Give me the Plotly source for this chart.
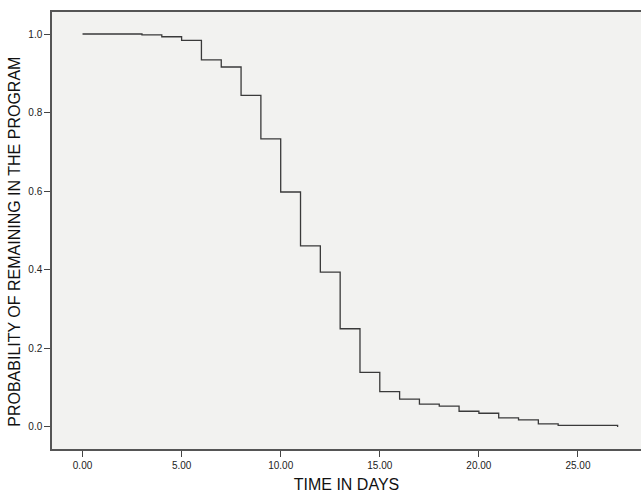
import plotly.graph_objects as go

# Kaplan-Meier style survival steps
time_days = [0, 3, 4, 5, 6, 7, 8, 9, 10, 11, 12, 13, 14, 15, 16, 17, 18, 19, 20, 21, 22, 23, 24, 27]
prob_remaining = [1.000, 0.998, 0.993, 0.984, 0.934, 0.916, 0.844, 0.733, 0.598, 0.461,
                  0.394, 0.250, 0.139, 0.090, 0.071, 0.058, 0.053, 0.040, 0.035, 0.023,
                  0.018, 0.008, 0.004, 0.000]

x_tick_vals = [0, 5, 10, 15, 20, 25]
x_tick_text = ["0.00", "5.00", "10.00", "15.00", "20.00", "25.00"]
y_tick_vals = [0.0, 0.2, 0.4, 0.6, 0.8, 1.0]
y_tick_text = ["0.0", "0.2", "0.4", "0.6", "0.8", "1.0"]
y_title = "PROBABILITY OF REMAINING IN THE PROGRAM"
x_title = "TIME IN DAYS"

fig = go.Figure()
fig.add_trace(go.Scatter(
    x=time_days, y=prob_remaining, mode="lines", line_shape="hv",
    line=dict(color="#3a3a3a", width=1.3), showlegend=False, hoverinfo="x+y"))

font_family = "Liberation Sans, Arial, Helvetica, sans-serif"
fig.update_layout(
    width=641, height=494,
    margin=dict(l=52, r=0, t=12, b=45),
    paper_bgcolor="white", plot_bgcolor="#f2f2f0",
    font=dict(family=font_family, color="#222222"),
    xaxis=dict(
        range=[-1.54, 28.18], tickvals=x_tick_vals, ticktext=x_tick_text,
        ticks="outside", ticklen=6, tickwidth=1.3, tickcolor="#444444",
        tickfont=dict(size=10, color="#222222"), automargin=False,
        showgrid=False, zeroline=False, showline=True, linecolor="#555555",
        linewidth=1.5, mirror=True,
        title=dict(text=x_title, font=dict(size=16, color="#111111"), standoff=9),
    ),
    yaxis=dict(
        range=[-0.056, 1.056], tickvals=y_tick_vals, ticktext=y_tick_text,
        ticks="outside", ticklen=6, tickwidth=1.3, tickcolor="#444444",
        tickfont=dict(size=10, color="#222222"), automargin=False,
        showgrid=False, zeroline=False, showline=True, linecolor="#555555",
        linewidth=1.5,
    ),
    annotations=[dict(
        text=y_title, textangle=-90, xref="paper", yref="paper",
        x=-0.063, y=0.474, xanchor="center", yanchor="middle", showarrow=False,
        font=dict(size=16, color="#111111", family=font_family))],
)

fig.write_html("out.html", config={"displayModeBar": False},
               post_script="document.body.style.margin='0';document.body.style.overflow='hidden';")
